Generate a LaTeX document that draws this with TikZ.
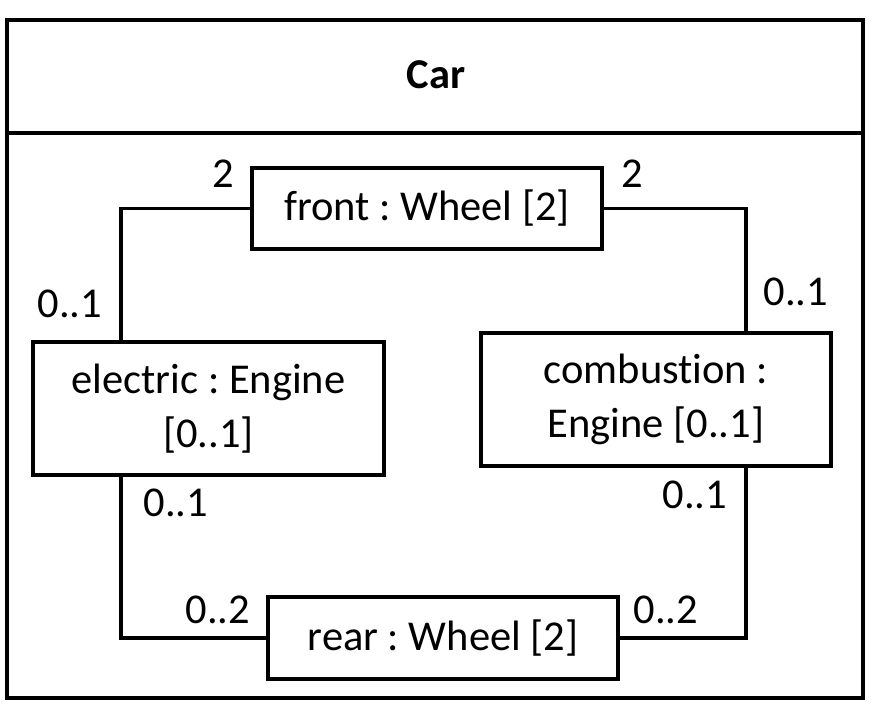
\documentclass[tikz,border=0pt]{standalone}
\usepackage{fontspec}
\setmainfont{Carlito}[Ligatures=NoCommon]
\frenchspacing
\usetikzlibrary{calc}
\begin{document}
\begin{tikzpicture}[x=1pt,y=-1pt,
  lw/.style={line width=3.9pt},
  txt/.style={font=\fontsize{42.5}{54}\selectfont\frenchspacing},
  part/.style={draw,lw,rectangle,inner sep=0pt,align=center,txt},
  mult/.style={anchor=base,inner sep=0pt,txt},
  conn/.style={lw}]
\useasboundingbox (0,0) rectangle (886,716);
% outer block
\node[draw,lw,rectangle,minimum width=856pt,minimum height=678pt,inner sep=0pt] (car) at (435,359) {};
\coordinate (hl) at (7,133);
\coordinate (hr) at (863,133);
\draw[lw] (hl) -- (hr);
\node[anchor=base,inner sep=0pt,font=\fontsize{42.5}{54}\selectfont\bfseries] (title) at (436,88) {Car};
% parts
\node[part,minimum width=350pt,minimum height=81pt] (front) at (427,208.5) {front : Wheel [2]};
\node[part,minimum width=351pt,minimum height=133pt] (elec) at (208.5,408.5) {electric : Engine\\{}[0..1]};
\node[part,minimum width=350pt,minimum height=133pt] (comb) at (656,399.5) {combustion :\\Engine [0..1]};
\node[part,minimum width=350pt,minimum height=82pt] (rear) at (443,638) {rear : Wheel [2]};
% connectors
\draw[conn] (front.west) -| ($(elec.north west)!0.2536!(elec.north east)$);
\draw[conn] (front.east) -| ($(comb.north west)!0.754!(comb.north east)$);
\draw[conn] ($(elec.south west)!0.2536!(elec.south east)$) |- (rear.west);
\draw[conn] ($(comb.south west)!0.754!(comb.south east)$) |- (rear.east);
% multiplicities
\node[mult] (m1) at (223,187) {2};
\node[mult] (m2) at (632,187) {2};
\node[mult] (m3) at (70,317) {0..1};
\node[mult] (m4) at (796,305) {0..1};
\node[mult] (m5) at (176,516) {0..1};
\node[mult] (m6) at (695,508) {0..1};
\node[mult] (m7) at (218,623) {0..2};
\node[mult] (m8) at (666,623) {0..2};
\end{tikzpicture}
\end{document}
